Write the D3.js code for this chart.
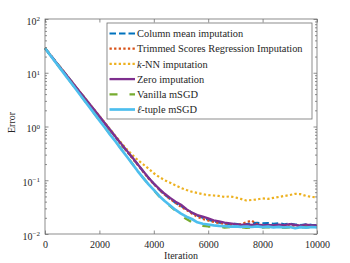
<!DOCTYPE html>
<html>
<head>
<meta charset="utf-8">
<script src="https://cdn.jsdelivr.net/npm/d3@7"></script>
<style>
  body { margin: 0; background: #fff; }
  svg text { fill: #262626; }
</style>
</head>
<body>
<svg width="350" height="263" font-family="'Liberation Serif', 'DejaVu Serif', serif"></svg>
<script>
// iterations shared by all series
const iters = d3.range(0, 10001, 200);

const colMean = [28.5, 21.5, 16.0, 11.9, 8.9, 6.6, 4.95, 3.7, 2.75, 2.05, 1.53, 1.14, 0.85, 0.63, 0.47, 0.35, 0.265, 0.20, 0.148, 0.112,
  0.086, 0.067, 0.054, 0.045, 0.038, 0.033, 0.029, 0.025, 0.022, 0.020, 0.0185, 0.0172, 0.0163, 0.0158, 0.0152, 0.0155, 0.0150, 0.0153, 0.0158, 0.0162,
  0.0157, 0.0160, 0.0155, 0.0158, 0.0152, 0.0156, 0.0150, 0.0147, 0.0152, 0.0148, 0.0146];
const trimmed = [28.5, 21.0, 15.6, 11.6, 8.7, 6.45, 4.82, 3.6, 2.69, 2.01, 1.5, 1.12, 0.84, 0.62, 0.465, 0.35, 0.262, 0.195, 0.146, 0.109,
  0.085, 0.067, 0.054, 0.045, 0.038, 0.032, 0.028, 0.024, 0.021, 0.019, 0.0178, 0.0168, 0.0160, 0.0155, 0.0150, 0.0148, 0.0152, 0.0165, 0.0178, 0.0152,
  0.0146, 0.0143, 0.0147, 0.0142, 0.0145, 0.0141, 0.0144, 0.0140, 0.0143, 0.0139, 0.0141];
const knn = [28.5, 21.6, 16.0, 12.0, 9.0, 6.7, 5.0, 3.75, 2.8, 2.1, 1.58, 1.18, 0.88, 0.66, 0.50, 0.38, 0.30, 0.24, 0.20, 0.165,
  0.135, 0.115, 0.100, 0.090, 0.080, 0.072, 0.066, 0.061, 0.058, 0.055, 0.053, 0.052, 0.051, 0.049, 0.050, 0.048, 0.045, 0.042, 0.043, 0.044,
  0.046, 0.045, 0.047, 0.049, 0.051, 0.053, 0.056, 0.055, 0.051, 0.049, 0.048];
const zero = [28.5, 21.3, 15.9, 11.9, 8.9, 6.64, 4.96, 3.71, 2.77, 2.07, 1.55, 1.15, 0.86, 0.64, 0.48, 0.36, 0.27, 0.20, 0.150, 0.112,
  0.087, 0.069, 0.056, 0.047, 0.040, 0.035, 0.029, 0.025, 0.0225, 0.021, 0.0195, 0.018, 0.0172, 0.0163, 0.0158, 0.0152, 0.0148, 0.0151, 0.0147, 0.0150,
  0.0145, 0.0148, 0.0144, 0.0150, 0.0146, 0.0152, 0.0147, 0.0143, 0.0149, 0.0145, 0.0144];
const vanilla = [28.5, 21.0, 15.5, 11.4, 8.35, 6.15, 4.5, 3.3, 2.43, 1.78, 1.31, 0.97, 0.71, 0.525, 0.385, 0.283, 0.207, 0.151, 0.112, 0.085,
  0.065, 0.050, 0.040, 0.033, 0.027, 0.022, 0.019, 0.0165, 0.0150, 0.0142, 0.0138, 0.0135, 0.0137, 0.0132, 0.0135, 0.0131, 0.0134, 0.0130, 0.0133, 0.0136,
  0.0132, 0.0135, 0.0131, 0.0134, 0.0130, 0.0133, 0.0136, 0.0132, 0.0135, 0.0131, 0.0134];
const tuple = [28.5, 20.9, 15.4, 11.3, 8.3, 6.1, 4.48, 3.29, 2.42, 1.77, 1.30, 0.96, 0.70, 0.52, 0.38, 0.28, 0.205, 0.150, 0.112, 0.085,
  0.066, 0.051, 0.041, 0.034, 0.028, 0.024, 0.021, 0.019, 0.0165, 0.0155, 0.0150, 0.0145, 0.0142, 0.0140, 0.0137, 0.0139, 0.0136, 0.0138, 0.0135, 0.0139,
  0.0134, 0.0137, 0.0133, 0.0136, 0.0132, 0.0135, 0.0128, 0.0134, 0.0131, 0.0135, 0.0133];

const names = ["Column mean imputation", "Trimmed Scores Regression Imputation", "k-NN imputation",
  "Zero imputation", "Vanilla mSGD", "ℓ-tuple mSGD"];
const xTicks = [0, 2000, 4000, 6000, 8000, 10000];
const yTicks = [1e-2, 1e-1, 1e0, 1e1, 1e2];

const series = [
  {name: names[0], values: colMean, color: "#0072BD", dash: "6.5 3", width: 2.2},
  {name: names[1], values: trimmed, color: "#D95319", dash: "2.3 2.3", width: 2.2},
  {name: names[2], values: knn, color: "#EDB120", dash: "2.3 2.3", width: 2.2},
  {name: names[3], values: zero, color: "#7E2F8E", dash: null, width: 2.3},
  {name: names[4], values: vanilla, color: "#77AC30", dash: "8 12", width: 2.3},
  {name: names[5], values: tuple, color: "#4DBEEE", dash: null, width: 2.7}
];

const width = 350, height = 263;
const m = {left: 45, right: 33, top: 19, bottom: 29};
const font = "'Liberation Serif', 'DejaVu Serif', serif";

const svg = d3.select("svg");

const x = d3.scaleLinear().domain([0, 10000]).range([m.left, width - m.right]);
const y = d3.scaleLog().domain([1e-2, 1e2]).range([height - m.bottom, m.top]);

const axisColor = "#707070";

// plot lines
const line = d3.line().x((d, i) => x(iters[i])).y(d => y(d));
svg.append("g")
  .selectAll("path")
  .data(series)
  .join("path")
  .attr("d", d => line(d.values))
  .attr("fill", "none")
  .attr("stroke", d => d.color)
  .attr("stroke-width", d => d.width)
  .attr("stroke-dasharray", d => d.dash)
  .attr("stroke-linejoin", "round");

// minor y ticks
const minor = [];
for (let e = -2; e < 2; e++) for (let k = 2; k <= 9; k++) minor.push(k * Math.pow(10, e));

function styleAxis(g) {
  g.attr("font-family", font);
  g.select(".domain").remove();
  g.selectAll(".tick line").attr("stroke", axisColor).attr("stroke-width", 0.8);
}

svg.append("g")
  .attr("transform", `translate(0,${height - m.bottom})`)
  .call(d3.axisBottom(x).tickValues(xTicks).tickSize(-3.5).tickPadding(7).tickFormat(d3.format("d")))
  .call(styleAxis)
  .selectAll("text").attr("font-size", 10);

svg.append("g")
  .attr("transform", `translate(0,${m.top})`)
  .call(d3.axisTop(x).tickValues(xTicks).tickSize(-3.5).tickFormat(""))
  .call(styleAxis);

const yl = svg.append("g")
  .attr("transform", `translate(${m.left},0)`)
  .call(d3.axisLeft(y).tickValues(yTicks).tickSize(-3.5).tickPadding(5).tickFormat(""))
  .call(styleAxis);

yl.selectAll(".tick text")
  .attr("font-size", 10)
  .attr("dy", "0.5em")
  .each(function(d) {
    const t = d3.select(this);
    const ex = Math.round(Math.log10(d));
    t.append("tspan").text("10");
    t.append("tspan").attr("dy", "-0.5em").attr("font-size", 7).text(ex < 0 ? "\u2212" + (-ex) : ex);
  });

svg.append("g")
  .attr("transform", `translate(${width - m.right},0)`)
  .call(d3.axisRight(y).tickValues(yTicks).tickSize(-3.5).tickFormat(""))
  .call(styleAxis);

svg.append("g")
  .attr("transform", `translate(${m.left},0)`)
  .call(d3.axisLeft(y).tickValues(minor).tickSize(-2).tickFormat(""))
  .call(styleAxis);
svg.append("g")
  .attr("transform", `translate(${width - m.right},0)`)
  .call(d3.axisRight(y).tickValues(minor).tickSize(-2).tickFormat(""))
  .call(styleAxis);

// box
svg.append("rect")
  .attr("x", m.left).attr("y", m.top)
  .attr("width", width - m.left - m.right).attr("height", height - m.top - m.bottom)
  .attr("fill", "none").attr("stroke", axisColor).attr("stroke-width", 0.8);

// axis titles
svg.append("text")
  .attr("x", (m.left + width - m.right) / 2).attr("y", 259)
  .attr("text-anchor", "middle").attr("font-size", 10)
  .text("Iteration");
svg.append("text")
  .attr("transform", `translate(15,${(m.top + height - m.bottom) / 2 - 4}) rotate(-90)`)
  .attr("text-anchor", "middle").attr("font-size", 10)
  .text("Error");

// legend
const lg = svg.append("g").attr("transform", "translate(107,23)");
lg.append("rect")
  .attr("width", 205).attr("height", 96)
  .attr("fill", "#fff").attr("stroke", axisColor).attr("stroke-width", 0.8);

const rows = lg.selectAll("g.row")
  .data(series)
  .join("g")
  .attr("class", "row")
  .attr("transform", (d, i) => `translate(0,${10.5 + i * 15.2})`);

rows.append("line")
  .attr("x1", 2.5).attr("x2", 28)
  .attr("stroke", d => d.color)
  .attr("stroke-width", d => d.width)
  .attr("stroke-dasharray", d => d.dash);

rows.append("text")
  .attr("x", 30).attr("dy", "0.35em")
  .attr("font-size", 10.4)
  .each(function(d) {
    const t = d3.select(this);
    if (d.name.startsWith("k-")) {
      t.append("tspan").attr("font-style", "italic").text("k");
      t.append("tspan").text(d.name.slice(1));
    } else if (d.name.startsWith("ℓ")) {
      t.append("tspan").attr("font-style", "italic").text("ℓ");
      t.append("tspan").text(d.name.slice(1));
    } else {
      t.text(d.name);
    }
  });
</script>
</body>
</html>
